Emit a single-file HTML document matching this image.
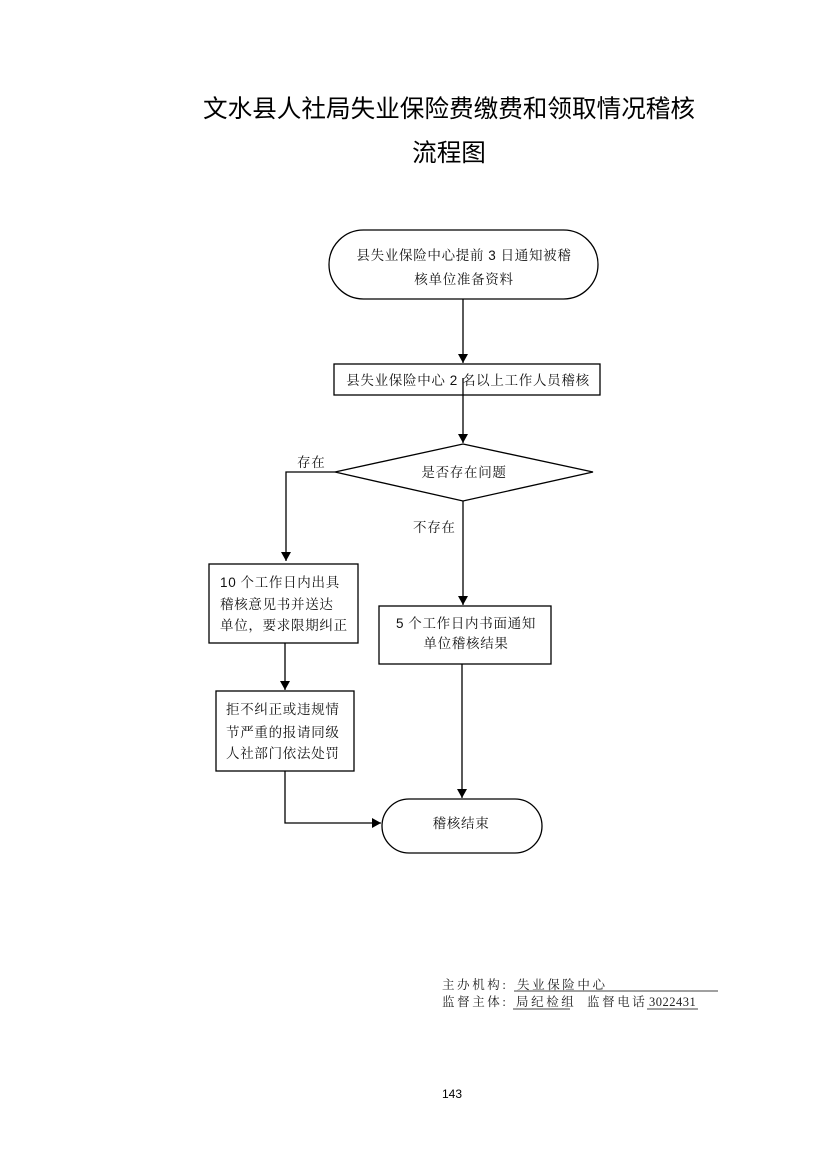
<!DOCTYPE html>
<html><head><meta charset="utf-8"><style>
html,body{margin:0;padding:0;background:#fff;}
svg{display:block;}
.s{font-family:"Liberation Serif","Noto Serif CJK SC",serif;font-size:13.5px;fill:#111;letter-spacing:0.7px;}
.t{font-family:"Liberation Sans","Noto Sans CJK SC",sans-serif;fill:#000;}
.f{font-family:"Liberation Serif","Noto Serif CJK SC",serif;font-size:12.5px;fill:#222;letter-spacing:2.6px;}
.n{font-family:"Liberation Sans",sans-serif;}
</style></head><body>
<svg width="827" height="1169" viewBox="0 0 827 1169" xmlns="http://www.w3.org/2000/svg">
<defs>
<marker id="a" markerWidth="9" markerHeight="10" refX="9" refY="5" orient="auto" markerUnits="userSpaceOnUse">
<path d="M0,0 L9,5 L0,10 Z" fill="#000"/>
</marker>
</defs>
<rect width="827" height="1169" fill="#fff"/>
<text class="t" x="449" y="117" font-size="24.6" text-anchor="middle" textLength="492" lengthAdjust="spacing">文水县人社局失业保险费缴费和领取情况稽核</text>
<text class="t" x="449" y="161" font-size="24.6" text-anchor="middle">流程图</text>

<g fill="none" stroke="#000" stroke-width="1.3">
<rect x="329" y="230" width="269" height="69" rx="34.5" ry="34.5"/>
<rect x="334" y="364" width="266" height="31"/>
<polygon points="463,444 593,472 463,501 335,472"/>
<rect x="209" y="564" width="149" height="79"/>
<rect x="379" y="606" width="172" height="58"/>
<rect x="216" y="691" width="138" height="80"/>
<rect x="382" y="799" width="160" height="54" rx="27" ry="27"/>

<line x1="463" y1="299" x2="463" y2="363" marker-end="url(#a)"/>
<line x1="463" y1="378" x2="463" y2="443" marker-end="url(#a)"/>
<polyline points="335,472 286,472 286,561" marker-end="url(#a)"/>
<line x1="463" y1="501" x2="463" y2="605" marker-end="url(#a)"/>
<line x1="285" y1="643" x2="285" y2="690" marker-end="url(#a)"/>
<polyline points="285,771 285,823 381,823" marker-end="url(#a)"/>
<line x1="462" y1="664" x2="462" y2="798" marker-end="url(#a)"/>
</g>

<text class="s" x="464" y="260" text-anchor="middle">县失业保险中心提前 <tspan class="n">3</tspan> 日通知被稽</text>
<text class="s" x="464" y="284" text-anchor="middle">核单位准备资料</text>
<text class="s" x="468" y="385" text-anchor="middle">县失业保险中心 <tspan class="n">2</tspan> 名以上工作人员稽核</text>
<text class="s" x="464" y="477" text-anchor="middle">是否存在问题</text>
<text class="s" x="297" y="467">存在</text>
<text class="s" x="413" y="532">不存在</text>
<text class="s" x="220" y="587"><tspan class="n">10</tspan> 个工作日内出具</text>
<text class="s" x="220" y="609">稽核意见书并送达</text>
<text class="s" x="220" y="630">单位，要求限期纠正</text>
<text class="s" x="466" y="628" text-anchor="middle"><tspan class="n">5</tspan> 个工作日内书面通知</text>
<text class="s" x="466" y="648" text-anchor="middle">单位稽核结果</text>
<text class="s" x="226" y="714">拒不纠正或违规情</text>
<text class="s" x="226" y="737">节严重的报请同级</text>
<text class="s" x="226" y="758">人社部门依法处罚</text>
<text class="s" x="461" y="828" text-anchor="middle">稽核结束</text>

<text class="f" x="442" y="989">主办机构:</text>
<text class="f" x="517" y="989">失业保险中心</text>
<line x1="514" y1="991" x2="718" y2="991" stroke="#000" stroke-width="0.8"/>
<text class="f" x="442" y="1006">监督主体:</text>
<text class="f" x="516" y="1006">局纪检组</text>
<line x1="513" y1="1009" x2="570" y2="1009" stroke="#000" stroke-width="0.8"/>
<text class="f" x="587" y="1006">监督电话</text>
<text class="f" x="649" y="1006" style="letter-spacing:0.5px">3022431</text>
<line x1="647" y1="1009" x2="698" y2="1009" stroke="#000" stroke-width="0.8"/>

<text x="452" y="1098" text-anchor="middle" font-family="Liberation Sans, sans-serif" font-size="12" fill="#000">143</text>
</svg>
</body></html>
